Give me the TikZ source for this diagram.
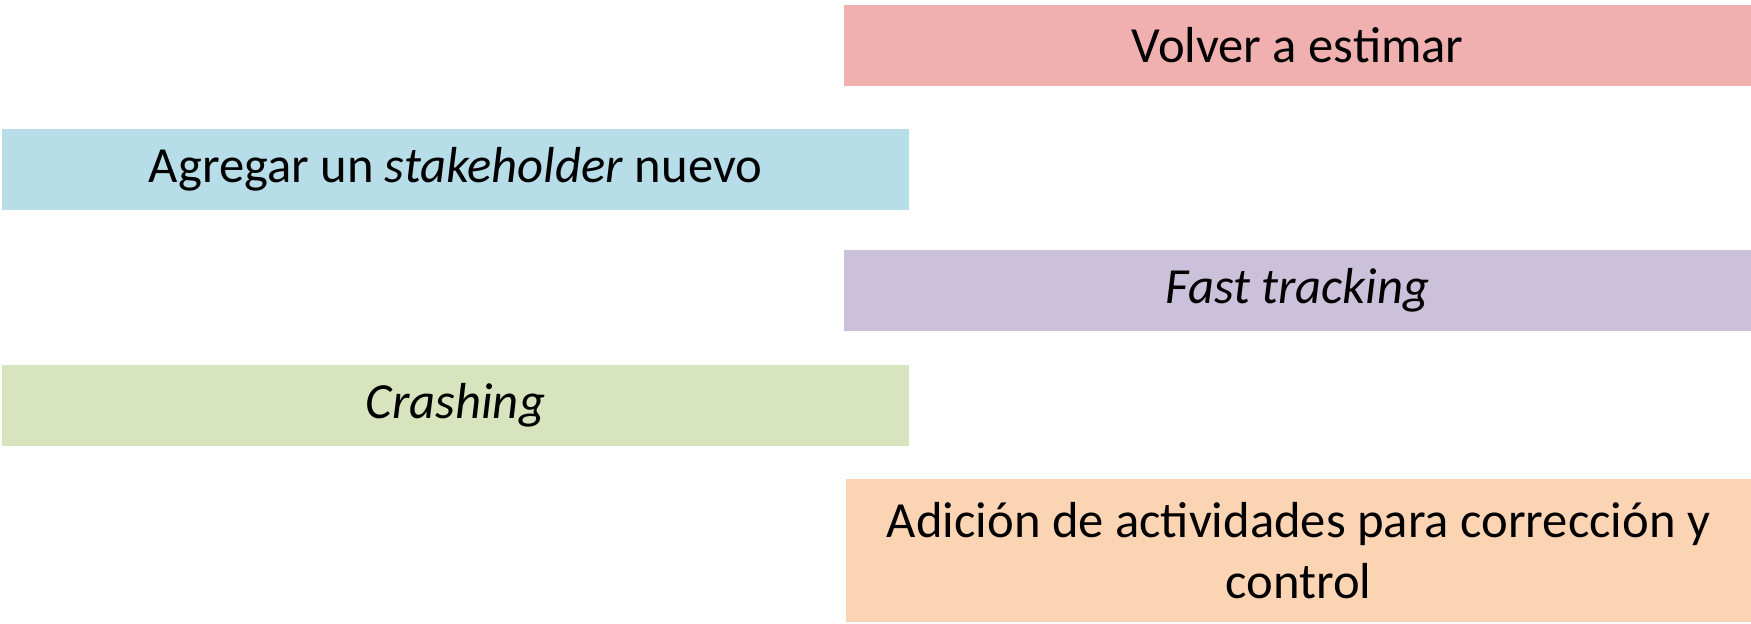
\documentclass[tikz,border=0pt]{standalone}
\usepackage{fontspec}
\setmainfont{Carlito}
\usetikzlibrary{positioning}

\definecolor{rosa}{HTML}{F0B0B0}
\definecolor{celeste}{HTML}{B7DDE8}
\definecolor{lila}{HTML}{CCC1DA}
\definecolor{oliva}{HTML}{D7E4BD}
\definecolor{durazno}{HTML}{FBD4B4}

\begin{document}
\begin{tikzpicture}[
    font=\fontsize{14.4}{17.4}\selectfont,
    barra/.style={fill=#1, draw=none, align=center, inner sep=0pt, minimum width=9.07cm, minimum height=0.81cm}
]
    \useasboundingbox[fill=white] (0,0) rectangle (17.51,6.23);

    % Columna derecha / izquierda alternadas
    \node[barra=rosa] (estimar) at (12.975, 5.775) {Volver a estimar};

    \node[barra=celeste] (agregar) at (4.555, 4.535) {Agregar un \textit{stakeholder} nuevo};

    \node[barra=lila] (fast) at (12.975, 3.325) {\textit{Fast tracking}};

    \node[barra=oliva] (crashing) at (4.555, 2.175) {\textit{Crashing}};

    \node[barra=durazno, minimum width=9.05cm, minimum height=1.43cm] (adicion) at (12.985, 0.725) {
        Adición de actividades para corrección y\\
        control
    };

\end{tikzpicture}
\end{document}
